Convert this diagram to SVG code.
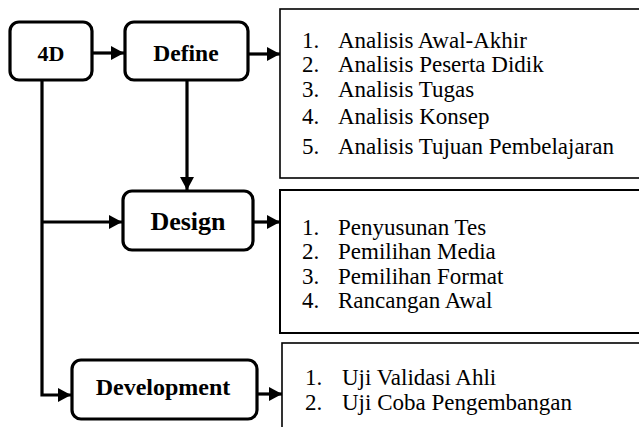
<svg xmlns="http://www.w3.org/2000/svg" width="639" height="427" viewBox="0 0 639 427">
<style>
.node{fill:#fff;stroke:#000;stroke-width:3.2}
.list{fill:#fff;stroke:#000;stroke-width:1.6}
.lbl{font-family:"Liberation Serif","DejaVu Serif",serif;font-weight:bold;fill:#000;text-anchor:middle}
.item{font-family:"Liberation Serif","DejaVu Serif",serif;font-size:23px;fill:#000}
.conn{fill:none;stroke:#000;stroke-width:3.2}
</style>
<defs>
<marker id="ah" markerUnits="userSpaceOnUse" markerWidth="13" markerHeight="14" refX="13" refY="7" orient="auto">
<path d="M0,0 L13,7 L0,14 z" fill="#000"/>
</marker>
</defs>
<g id="connectors">
<line class="conn" x1="92" y1="53" x2="124" y2="53" marker-end="url(#ah)"/>
<line class="conn" x1="248" y1="54" x2="280" y2="54" marker-end="url(#ah)"/>
<line class="conn" x1="187" y1="80" x2="187" y2="190" marker-end="url(#ah)"/>
<polyline class="conn" points="42,80 42,395 71,395" marker-end="url(#ah)"/>
<line class="conn" x1="42" y1="222" x2="122" y2="222" marker-end="url(#ah)"/>
<line class="conn" x1="253" y1="222" x2="280" y2="222" marker-end="url(#ah)"/>
<line class="conn" x1="257" y1="394" x2="282" y2="394" marker-end="url(#ah)"/>
</g>
<g id="node-4d">
<rect class="node" x="10" y="22" width="82" height="58" rx="9"/>
<text class="lbl" x="51" y="61" font-size="22">4D</text>
</g>
<g id="node-define">
<rect class="node" x="125" y="22" width="123" height="58" rx="9"/>
<text class="lbl" x="186" y="61" font-size="23.5">Define</text>
</g>
<g id="node-design">
<rect class="node" x="123" y="191" width="130" height="59" rx="9"/>
<text class="lbl" x="188" y="230" font-size="26">Design</text>
</g>
<g id="node-development">
<rect class="node" x="72" y="360" width="185" height="59" rx="9"/>
<text class="lbl" x="163" y="395" font-size="24">Development</text>
</g>
<g id="list-define">
<rect class="list" x="280" y="9" width="370" height="169"/>
<text class="item" x="302" y="48">1.</text><text class="item" x="338" y="48">Analisis Awal-Akhir</text>
<text class="item" x="302" y="72">2.</text><text class="item" x="338" y="72">Analisis Peserta Didik</text>
<text class="item" x="302" y="97">3.</text><text class="item" x="338" y="97">Analisis Tugas</text>
<text class="item" x="302" y="124">4.</text><text class="item" x="338" y="124">Analisis Konsep</text>
<text class="item" x="302" y="154">5.</text><text class="item" x="338" y="154">Analisis Tujuan Pembelajaran</text>
</g>
<g id="list-design">
<rect class="list" x="280" y="190" width="370" height="143" style="stroke-width:2"/>
<text class="item" x="302" y="235">1.</text><text class="item" x="338" y="235">Penyusunan Tes</text>
<text class="item" x="302" y="259">2.</text><text class="item" x="338" y="259">Pemilihan Media</text>
<text class="item" x="302" y="284">3.</text><text class="item" x="338" y="284">Pemilihan Format</text>
<text class="item" x="302" y="308">4.</text><text class="item" x="338" y="308">Rancangan Awal</text>
</g>
<g id="list-development">
<rect class="list" x="282" y="343" width="370" height="100"/>
<text class="item" x="305" y="385">1.</text><text class="item" x="342" y="385">Uji Validasi Ahli</text>
<text class="item" x="305" y="410">2.</text><text class="item" x="342" y="410">Uji Coba Pengembangan</text>
</g>
</svg>
